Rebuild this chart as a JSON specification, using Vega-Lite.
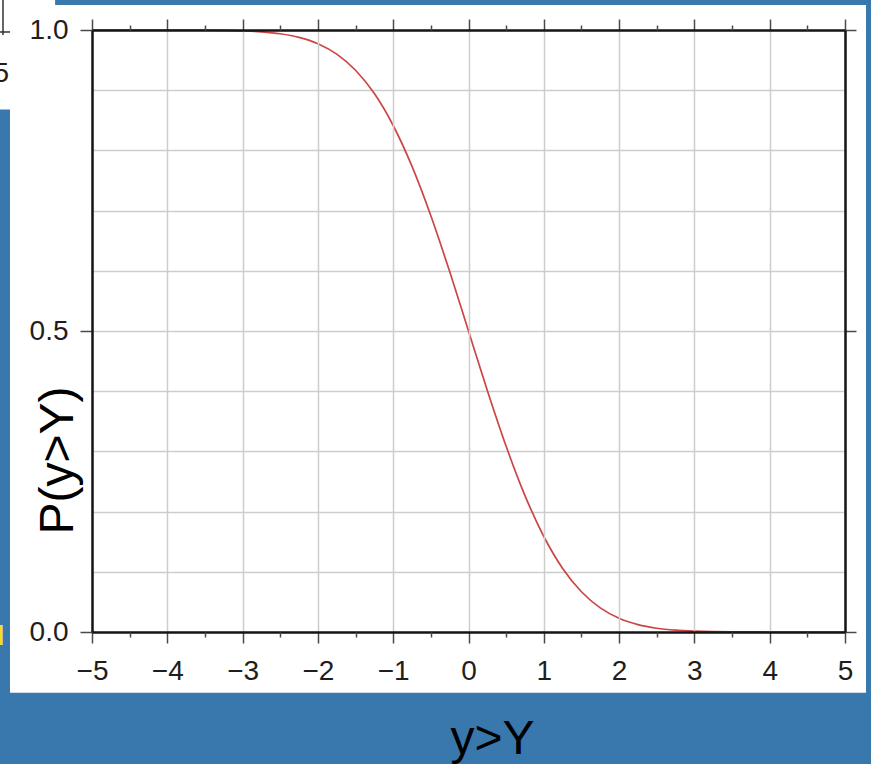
{
  "$schema": "https://vega.github.io/schema/vega-lite/v6.json",
  "width": 753,
  "height": 602,
  "autosize": {"type": "none"},
  "padding": {"left": 92, "top": 30, "right": 26, "bottom": 132},
  "background": "#3878ad",
  "view": {"fill": "white", "stroke": null},
  "config": {
    "axis": {
      "labelFont": "Liberation Sans",
      "labelFontSize": 28,
      "labelColor": "#1e1e1e",
      "labelFlush": false,
      "labelOverlap": false,
      "titleFont": "Liberation Sans",
      "titleFontWeight": "normal",
      "titleColor": "#000000",
      "titleFontSize": 48,
      "tickColor": "#4a4a4a",
      "tickWidth": 1.5,
      "domainColor": "#151515",
      "domainWidth": 2.5,
      "gridColor": "#cdcdcd",
      "gridWidth": 1.5
    }
  },
  "resolve": {"axis": {"x": "independent", "y": "independent"}},
  "datasets": {
    "one": [{}],
    "survival": [
      {"Y": -5.0, "P": 0.9999997},
      {"Y": -4.5, "P": 0.9999966},
      {"Y": -4.0, "P": 0.999968},
      {"Y": -3.75, "P": 0.999912},
      {"Y": -3.5, "P": 0.999767},
      {"Y": -3.25, "P": 0.999423},
      {"Y": -3.0, "P": 0.99865},
      {"Y": -2.75, "P": 0.99702},
      {"Y": -2.5, "P": 0.99379},
      {"Y": -2.25, "P": 0.987776},
      {"Y": -2.0, "P": 0.97725},
      {"Y": -1.75, "P": 0.959941},
      {"Y": -1.5, "P": 0.933193},
      {"Y": -1.25, "P": 0.89435},
      {"Y": -1.0, "P": 0.841345},
      {"Y": -0.75, "P": 0.773373},
      {"Y": -0.5, "P": 0.691462},
      {"Y": -0.25, "P": 0.598706},
      {"Y": 0.0, "P": 0.5},
      {"Y": 0.25, "P": 0.401294},
      {"Y": 0.5, "P": 0.308538},
      {"Y": 0.75, "P": 0.226627},
      {"Y": 1.0, "P": 0.158655},
      {"Y": 1.25, "P": 0.10565},
      {"Y": 1.5, "P": 0.066807},
      {"Y": 1.75, "P": 0.040059},
      {"Y": 2.0, "P": 0.02275},
      {"Y": 2.25, "P": 0.012224},
      {"Y": 2.5, "P": 0.00621},
      {"Y": 2.75, "P": 0.00298},
      {"Y": 3.0, "P": 0.00135},
      {"Y": 3.25, "P": 0.000577},
      {"Y": 3.5, "P": 0.000233},
      {"Y": 3.75, "P": 0.000088},
      {"Y": 4.0, "P": 0.000032},
      {"Y": 4.5, "P": 0.0000034},
      {"Y": 5.0, "P": 0.0000003}
    ]
  },
  "layer": [
    {
      "data": {"name": "one"},
      "mark": {"type": "rect", "color": "white"},
      "encoding": {
        "x": {
          "datum": -6.089,
          "type": "quantitative",
          "scale": {"domain": [-5, 5], "nice": false, "zero": false},
          "axis": {
            "orient": "bottom",
            "zindex": 2,
            "values": [-5, -4, -3, -2, -1, 0, 1, 2, 3, 4, 5],
            "format": "d",
            "tickSize": 11,
            "labelPadding": 14,
            "grid": true,
            "domain": true,
            "title": "y>Y",
            "titleX": 400,
            "titleY": 121,
            "titleAlign": "center",
            "titleBaseline": "alphabetic"
          }
        },
        "x2": {"datum": -5},
        "y": {
          "datum": -0.101,
          "type": "quantitative",
          "scale": {"domain": [0, 1], "nice": false, "zero": false},
          "axis": {
            "orient": "left",
            "zindex": 2,
            "values": [0, 0.5, 1],
            "format": ".1f",
            "tickSize": 12,
            "labelPadding": 12,
            "grid": false,
            "domain": true,
            "title": "P(y>Y)",
            "titleAngle": 270,
            "titleX": -20,
            "titleY": 430,
            "titleAlign": "center",
            "titleBaseline": "alphabetic"
          }
        },
        "y2": {"datum": 1.0415}
      }
    },
    {
      "data": {"name": "one"},
      "mark": {"type": "rect", "color": "white"},
      "encoding": {
        "x": {
          "datum": 5,
          "type": "quantitative",
          "scale": {"domain": [-5, 5], "nice": false, "zero": false},
          "axis": {
            "orient": "top",
            "zindex": 2,
            "values": [-5, -4, -3, -2, -1, 0, 1, 2, 3, 4, 5],
            "tickSize": 11,
            "labels": false,
            "grid": false,
            "domain": true,
            "title": null
          }
        },
        "x2": {"datum": 5.279},
        "y": {
          "datum": -0.101,
          "type": "quantitative",
          "scale": {"domain": [0, 1], "nice": false, "zero": false},
          "axis": {
            "orient": "right",
            "zindex": 2,
            "values": [0, 0.5, 1],
            "tickSize": 11,
            "labels": false,
            "grid": false,
            "domain": true,
            "title": null
          }
        },
        "y2": {"datum": 1.0415}
      }
    },
    {
      "data": {"name": "one"},
      "mark": {"type": "rect", "color": "white"},
      "encoding": {
        "x": {
          "datum": -5,
          "type": "quantitative",
          "scale": {"domain": [-5, 5], "nice": false, "zero": false},
          "axis": {
            "orient": "bottom",
            "zindex": 2,
            "values": [-4.5, -3.5, -2.5, -1.5, -0.5, 0.5, 1.5, 2.5, 3.5, 4.5],
            "tickSize": 5,
            "labels": false,
            "grid": false,
            "domain": false,
            "title": null
          }
        },
        "x2": {"datum": 5},
        "y": {
          "datum": 1,
          "type": "quantitative",
          "scale": {"domain": [0, 1], "nice": false, "zero": false},
          "axis": {
            "orient": "left",
            "values": [0, 0.1, 0.2, 0.3, 0.4, 0.5, 0.6, 0.7, 0.8, 0.9, 1],
            "ticks": false,
            "labels": false,
            "grid": true,
            "domain": false,
            "title": null
          }
        },
        "y2": {"datum": 1.0415}
      }
    },
    {
      "data": {"name": "one"},
      "mark": {"type": "rect", "color": "white"},
      "encoding": {
        "x": {
          "datum": -5,
          "type": "quantitative",
          "scale": {"domain": [-5, 5], "nice": false, "zero": false},
          "axis": {
            "orient": "top",
            "zindex": 2,
            "values": [-4.5, -3.5, -2.5, -1.5, -0.5, 0.5, 1.5, 2.5, 3.5, 4.5],
            "tickSize": 5,
            "labels": false,
            "grid": false,
            "domain": false,
            "title": null
          }
        },
        "x2": {"datum": 5},
        "y": {
          "datum": -0.101,
          "type": "quantitative",
          "scale": {"domain": [0, 1], "nice": false, "zero": false},
          "axis": null
        },
        "y2": {"datum": 0}
      }
    },
    {
      "data": {"name": "survival"},
      "mark": {"type": "line", "color": "#cc4646", "strokeWidth": 1.7, "interpolate": "monotone"},
      "encoding": {
        "x": {"field": "Y", "type": "quantitative", "axis": null},
        "y": {"field": "P", "type": "quantitative", "axis": null}
      }
    },
    {
      "data": {"name": "one"},
      "mark": {"type": "rect", "color": "white"},
      "encoding": {
        "x": {"datum": -6.23, "type": "quantitative", "axis": null},
        "x2": {"datum": -5.49},
        "y": {"datum": 1.035, "type": "quantitative", "axis": null},
        "y2": {"datum": 1.06}
      }
    },
    {
      "data": {"name": "one"},
      "mark": {"type": "rect", "color": "white"},
      "encoding": {
        "x": {"datum": -6.23, "type": "quantitative", "axis": null},
        "x2": {"datum": -6.089},
        "y": {"datum": 0.868, "type": "quantitative", "axis": null},
        "y2": {"datum": 1.06}
      }
    },
    {
      "data": {"name": "one"},
      "mark": {"type": "rule", "color": "#333333", "strokeWidth": 1.5},
      "encoding": {
        "x": {"datum": -6.182, "type": "quantitative", "axis": null},
        "y": {"datum": 0.9917, "type": "quantitative", "axis": null},
        "y2": {"datum": 1.06}
      }
    },
    {
      "data": {"name": "one"},
      "mark": {"type": "rule", "color": "#333333", "strokeWidth": 1.5},
      "encoding": {
        "x": {"datum": -6.23, "type": "quantitative", "axis": null},
        "x2": {"datum": -6.089},
        "y": {"datum": 0.9967, "type": "quantitative", "axis": null}
      }
    },
    {
      "data": {"name": "one"},
      "mark": {"type": "text", "text": "5", "font": "Liberation Sans", "fontSize": 28, "color": "#1e1e1e", "align": "right", "baseline": "alphabetic"},
      "encoding": {
        "x": {"datum": -6.1, "type": "quantitative", "axis": null},
        "y": {"datum": 0.9136, "type": "quantitative", "axis": null}
      }
    },
    {
      "data": {"name": "one"},
      "mark": {"type": "text", "text": "H", "font": "Liberation Sans", "fontSize": 30, "color": "#f2e21e", "align": "right", "baseline": "alphabetic"},
      "encoding": {
        "x": {"datum": -6.155, "type": "quantitative", "axis": null},
        "y": {"datum": -0.0216, "type": "quantitative", "axis": null}
      }
    }
  ]
}
